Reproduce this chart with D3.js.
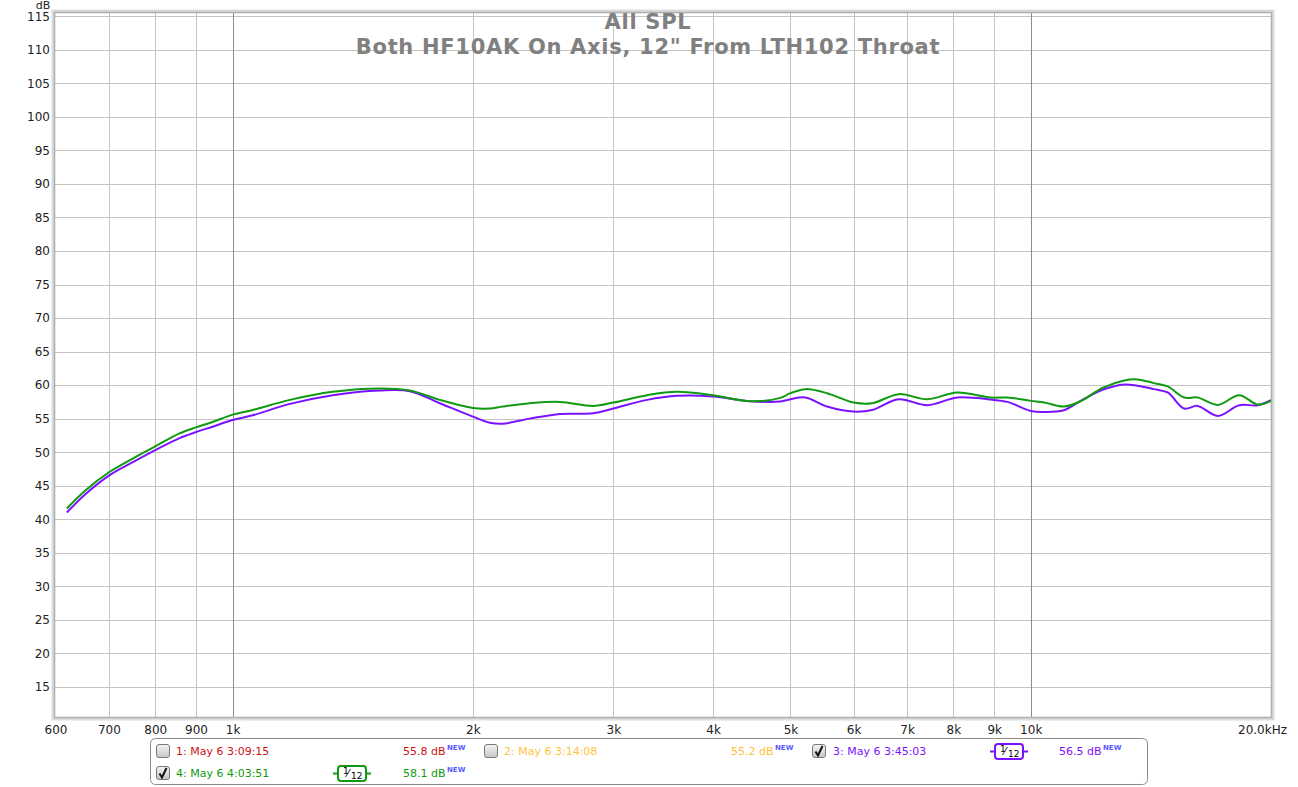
<!DOCTYPE html>
<html>
<head>
<meta charset="utf-8">
<script src="https://cdn.jsdelivr.net/npm/d3@7"></script>
<style>
  html, body { margin: 0; padding: 0; background: #fff; }
  svg { display: block; }
  text { font-family: "DejaVu Sans", sans-serif; }
</style>
</head>
<body>
<svg id="chart" width="1298" height="787"></svg>
<script>
// ---------------- DATA ----------------
const titleLines = ["All SPL", "Both HF10AK On Axis, 12\" From LTH102 Throat"];
const freqs = [620, 655, 700, 750, 800, 858, 900, 944, 1000, 1060, 1180, 1335, 1530, 1668, 1818, 2000, 2100, 2180, 2358, 2572, 2830, 3000, 3307, 3607, 4000, 4454, 4858, 5000, 5220, 5557, 6000, 6330, 6830, 7420, 8090, 8900, 9350, 10000, 10400, 11000, 11550, 12300, 13100, 13600, 14267, 14842, 15571, 16186, 17152, 18250, 19253, 20000];
const ch4Values = [41.6, 44.35, 47.0, 49.05, 50.85, 52.8, 53.7, 54.5, 55.6, 56.3, 57.8, 59.0, 59.5, 59.2, 57.8, 56.6, 56.5, 56.8, 57.3, 57.5, 56.9, 57.4, 58.5, 59.0, 58.5, 57.6, 58.1, 58.8, 59.4, 58.8, 57.4, 57.3, 58.65, 57.9, 58.9, 58.15, 58.15, 57.65, 57.4, 56.8, 57.6, 59.6, 60.7, 60.85, 60.3, 59.8, 58.15, 58.15, 57.05, 58.5, 57.1, 57.65];
const ch3Values = [41.0, 43.8, 46.5, 48.5, 50.3, 52.1, 53.0, 53.8, 54.8, 55.5, 57.2, 58.5, 59.2, 59.1, 57.3, 55.3, 54.4, 54.25, 55.0, 55.7, 55.8, 56.5, 57.8, 58.4, 58.3, 57.6, 57.55, 57.9, 58.15, 56.8, 56.05, 56.3, 57.9, 57.0, 58.15, 57.85, 57.5, 56.15, 56.0, 56.25, 57.65, 59.3, 60.1, 59.9, 59.4, 58.9, 56.5, 56.9, 55.4, 57.0, 57.0, 57.75];
const yTicks = [15, 20, 25, 30, 35, 40, 45, 50, 55, 60, 65, 70, 75, 80, 85, 90, 95, 100, 105, 110, 115];
const xGrid = [700, 800, 900, 1000, 2000, 3000, 4000, 5000, 6000, 7000, 8000, 9000, 10000];
const xMajor = [1000, 10000];
const xTickValues = [600, 700, 800, 900, 1000, 2000, 3000, 4000, 5000, 6000, 7000, 8000, 9000, 10000, 20000];
const xTickLabels = ["600", "700", "800", "900", "1k", "2k", "3k", "4k", "5k", "6k", "7k", "8k", "9k", "10k", "20.0kHz"];
const legendNames = ["1: May 6 3:09:15", "2: May 6 3:14:08", "3: May 6 3:45:03", "4: May 6 4:03:51"];
const legendLevels = ["55.8 dB", "55.2 dB", "56.5 dB", "58.1 dB"];
const legendChecked = [false, false, true, true];
const legendSmoothing = [null, null, "1/12", "1/12"];
const legendColors = ["#cc1111", "#ffc23a", "#7b12ff", "#109a10"];

// ---------------- LAYOUT ----------------
const svg = d3.select("#chart");
const plot = { left: 55, right: 1271, top: 13, bottom: 717 };
const x = d3.scaleLog().domain([600, 20000]).range([plot.left + 0.5, plot.right]);
const y = d3.scaleLinear().domain([10.5, 115.5]).range([plot.bottom, plot.top]);

// grid
const grid = svg.append("g");
grid.selectAll("line.h").data(yTicks).enter().append("line")
  .attr("x1", plot.left).attr("x2", plot.right)
  .attr("y1", d => Math.round(y(d)) + 0.5).attr("y2", d => Math.round(y(d)) + 0.5)
  .attr("stroke", "#c4c4c4").attr("stroke-width", 1);
grid.selectAll("line.v").data(xGrid).enter().append("line")
  .attr("y1", plot.top).attr("y2", plot.bottom)
  .attr("x1", d => Math.round(x(d)) + 0.5).attr("x2", d => Math.round(x(d)) + 0.5)
  .attr("stroke", d => xMajor.includes(d) ? "#8c8c8c" : "#c4c4c4").attr("stroke-width", 1);

// frame with soft shadow
const fr = svg.append("g");
fr.append("rect").attr("x", plot.left - 2).attr("y", plot.top - 2)
  .attr("width", plot.right - plot.left + 4).attr("height", plot.bottom - plot.top + 4)
  .attr("fill", "none").attr("stroke", "#dcdcdc").attr("stroke-width", 3);
fr.append("rect").attr("x", plot.left - 0.5).attr("y", plot.top - 0.5)
  .attr("width", plot.right - plot.left + 1).attr("height", plot.bottom - plot.top + 1)
  .attr("fill", "none").attr("stroke", "#b0b0b0").attr("stroke-width", 1.6);

// y axis labels
const yAxis = d3.axisLeft(y).tickValues(yTicks).tickSize(0).tickPadding(4);
const yg = svg.append("g").attr("transform", `translate(${plot.left - 1},0)`).call(yAxis);
yg.select(".domain").remove();
yg.selectAll("text").attr("font-size", 12).attr("fill", "#222").attr("font-family", "DejaVu Sans");

// x axis labels
const xAxis = d3.axisBottom(x).tickValues(xTickValues)
  .tickFormat((d, i) => xTickLabels[i]).tickSize(0).tickPadding(8);
const xg = svg.append("g").attr("transform", `translate(0,${plot.bottom})`).call(xAxis);
xg.select(".domain").remove();
xg.selectAll("text").attr("font-size", 12).attr("fill", "#222").attr("font-family", "DejaVu Sans");
xg.selectAll("text").filter((d, i) => i === xTickLabels.length - 1).attr("text-anchor", "middle").attr("dx", -9);

// dB unit
svg.append("text").attr("x", 43).attr("y", 9).attr("text-anchor", "middle")
  .attr("font-size", 11).attr("fill", "#222").text("dB");

// curves
const line = d3.line().x(d => x(d[0])).y(d => y(d[1])).curve(d3.curveCatmullRom.alpha(0.5));
const ch3 = freqs.map((f, i) => [f, ch3Values[i]]);
const ch4 = freqs.map((f, i) => [f, ch4Values[i]]);
svg.append("clipPath").attr("id", "pc").append("rect")
  .attr("x", plot.left).attr("y", plot.top).attr("width", plot.right - plot.left).attr("height", plot.bottom - plot.top);
const curves = svg.append("g").attr("clip-path", "url(#pc)");
curves.append("path").datum(ch3).attr("d", line).attr("fill", "none")
  .attr("stroke", legendColors[2]).attr("stroke-width", 2);
curves.append("path").datum(ch4).attr("d", line).attr("fill", "none")
  .attr("stroke", legendColors[3]).attr("stroke-width", 2);

// title
svg.selectAll("text.title").data(titleLines).enter().append("text")
  .attr("class", "title")
  .attr("x", 648).attr("y", (d, i) => 29 + i * 25).attr("text-anchor", "middle")
  .attr("font-size", 21).attr("font-weight", "bold").attr("letter-spacing", 0.7)
  .attr("fill", "#808080").text(d => d);

// ---------------- LEGEND ----------------
const lg = svg.append("g");
lg.append("rect").attr("x", 150.5).attr("y", 738.5).attr("width", 997).attr("height", 46)
  .attr("rx", 5).attr("fill", "#fff").attr("stroke", "#8a8a8a").attr("stroke-width", 1);

const defs = svg.append("defs");
const grad = defs.append("linearGradient").attr("id", "cbg").attr("x1", 0).attr("y1", 0).attr("x2", 0).attr("y2", 1);
grad.append("stop").attr("offset", "0%").attr("stop-color", "#f4f4f4");
grad.append("stop").attr("offset", "100%").attr("stop-color", "#c6c6c6");

const slots = [
  { cb: 156, name: 176, lvl: 403, badge: 352, row: 0 },
  { cb: 484, name: 504, lvl: 731, badge: 680, row: 0 },
  { cb: 812, name: 833, lvl: 1059, badge: 1009, row: 0 },
  { cb: 156, name: 176, lvl: 403, badge: 352, row: 1 }
];
const rowY = [751, 773];

legendNames.forEach((name, i) => {
  const s = slots[i];
  const cy = rowY[s.row];
  const g = lg.append("g");
  g.append("rect").attr("x", s.cb + 0.5).attr("y", cy - 6.5).attr("width", 13).attr("height", 13)
    .attr("rx", 2.5).attr("fill", "url(#cbg)").attr("stroke", "#7a7a7a").attr("stroke-width", 1);
  if (legendChecked[i]) {
    g.append("path")
      .attr("d", `M${s.cb + 3.5},${cy + 0.5} L${s.cb + 6},${cy + 4.5} L${s.cb + 10.5},${cy - 5}`)
      .attr("fill", "none").attr("stroke", "#111").attr("stroke-width", 2).attr("stroke-linejoin", "miter");
  }
  g.append("text").attr("x", s.name).attr("y", cy + 4).attr("font-size", 11)
    .attr("fill", legendColors[i]).text(name);
  g.append("text").attr("x", s.lvl).attr("y", cy + 4).attr("font-size", 11)
    .attr("fill", legendColors[i]).text(legendLevels[i]);
  g.append("text").attr("x", s.lvl + 44).attr("y", cy - 1).attr("font-size", 7)
    .attr("font-weight", "bold").attr("fill", "#5a5aff").text("NEW");
  if (legendSmoothing[i]) {
    const bx = s.badge, c = legendColors[i];
    g.append("line").attr("x1", bx - 19).attr("x2", bx + 19).attr("y1", cy + 0.5).attr("y2", cy + 0.5)
      .attr("stroke", c).attr("stroke-width", 2);
    g.append("rect").attr("x", bx - 14).attr("y", cy - 7).attr("width", 28).attr("height", 15)
      .attr("rx", 3).attr("fill", "#fff").attr("stroke", c).attr("stroke-width", 2);
    const parts = legendSmoothing[i].split("/");
    g.append("text").attr("x", bx - 9).attr("y", cy + 1).attr("font-size", 9).attr("fill", "#000").text(parts[0]);
    g.append("text").attr("x", bx - 5).attr("y", cy + 4).attr("font-size", 11).attr("fill", "#000").text("\u2044");
    g.append("text").attr("x", bx - 1).attr("y", cy + 6).attr("font-size", 9).attr("fill", "#000").text(parts[1]);
  }
});
</script>
</body>
</html>
